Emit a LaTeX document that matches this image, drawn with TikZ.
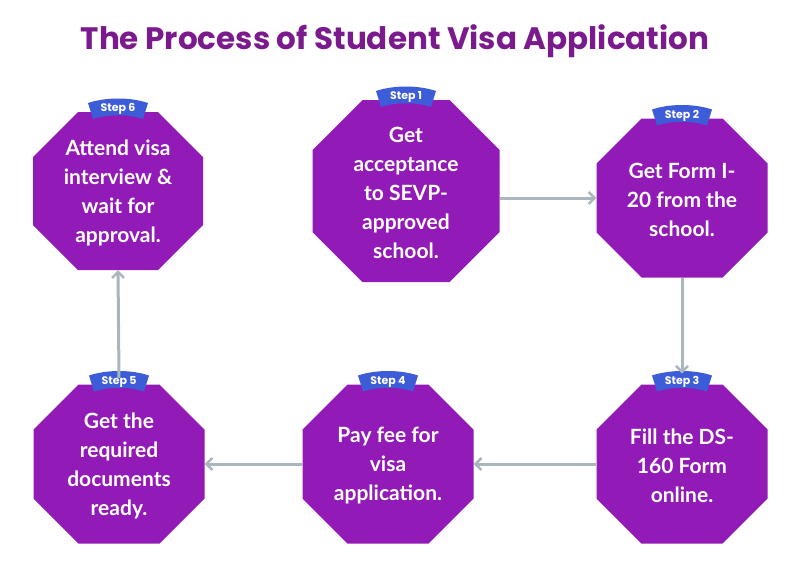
\documentclass[tikz,border=0pt]{standalone}
\usepackage{fontspec}
\setmainfont{Lato}
\newfontfamily\titlefont{Poppins}
\usetikzlibrary{arrows.meta}
\definecolor{octfill}{HTML}{921AB6}
\definecolor{titlecol}{HTML}{7A1A8C}
\definecolor{badgecol}{HTML}{3D5CD8}
\definecolor{arrcol}{HTML}{AAB6BC}
\tikzset{
  octtext/.style={text=white,font=\fontsize{21}{29}\selectfont\bfseries,align=center,inner sep=0pt},
  conn/.style={draw=arrcol,line width=3pt,-{Straight Barb[length=6pt,width=12pt,line width=2.5pt]}},
  badgetext/.style={text=white,font=\titlefont\bfseries\fontsize{11}{11}\selectfont,inner sep=0pt}
}
% \octa{name}{cx}{cy}{w}{h}{cut}{step}{text}
\newcommand\octa[8]{%
  \fill[octfill] (#2-#4/2+#6,#3-#5/2) -- (#2+#4/2-#6,#3-#5/2) -- (#2+#4/2,#3-#5/2+#6)
   -- (#2+#4/2,#3+#5/2-#6) -- (#2+#4/2-#6,#3+#5/2) -- (#2-#4/2+#6,#3+#5/2)
   -- (#2-#4/2,#3+#5/2-#6) -- (#2-#4/2,#3-#5/2+#6) -- cycle;
  \node[minimum width=#4pt,minimum height=#5pt,inner sep=0pt] (#1) at (#2,#3) {};
  \node[octtext] (#1t) at (#2,#3+2) {#8};
  \fill[badgecol] (#2-30,#3-#5/2-9) .. controls (#2-12,#3-#5/2-15) and (#2+12,#3-#5/2-15) .. (#2+30,#3-#5/2-9)
    -- (#2+25,#3-#5/2+7) .. controls (#2+10,#3-#5/2+2) and (#2-10,#3-#5/2+2) .. (#2-25,#3-#5/2+7) -- cycle;
  \node[badgetext,rotate=0] (#1b) at (#2,#3-#5/2-3) {Step #7};
}
\begin{document}
\begin{tikzpicture}[x=1pt,y=-1pt]
\useasboundingbox (0,0) rectangle (800,571);
\node[text=titlecol,font=\titlefont\bfseries\fontsize{31}{36}\selectfont] (title) at (395,41) {The Process of Student Visa Application};
\octa{s1}{406}{191}{187}{182}{50}{1}{Get\\acceptance\\to SEVP-\\approved\\school.}
\octa{s2}{682}{198}{171}{159}{45}{2}{Get Form I-\\20 from the\\school.}
\octa{s3}{682}{464}{171}{159}{45}{3}{Fill the DS-\\160 Form\\online.}
\octa{s4}{388}{464}{171}{159}{45}{4}{Pay fee for\\visa\\application.}
\octa{s5}{119}{464}{171}{159}{45}{5}{Get the\\required\\documents\\ready.}
\octa{s6}{118}{191}{170}{158}{45}{6}{Attend visa\\interview \&\\wait for\\approval.}
\draw[conn] (s1.east |- 0,198) -- (s2.west);
\draw[conn] (s2.south) -- ([yshift=2pt]s3b.north);
\draw[conn] (s3.west) -- (s4.east);
\draw[conn] (s4.west) -- (s5.east);
\draw[conn] ([yshift=-2pt]s5b.north) -- (s6.south);
\end{tikzpicture}
\end{document}
